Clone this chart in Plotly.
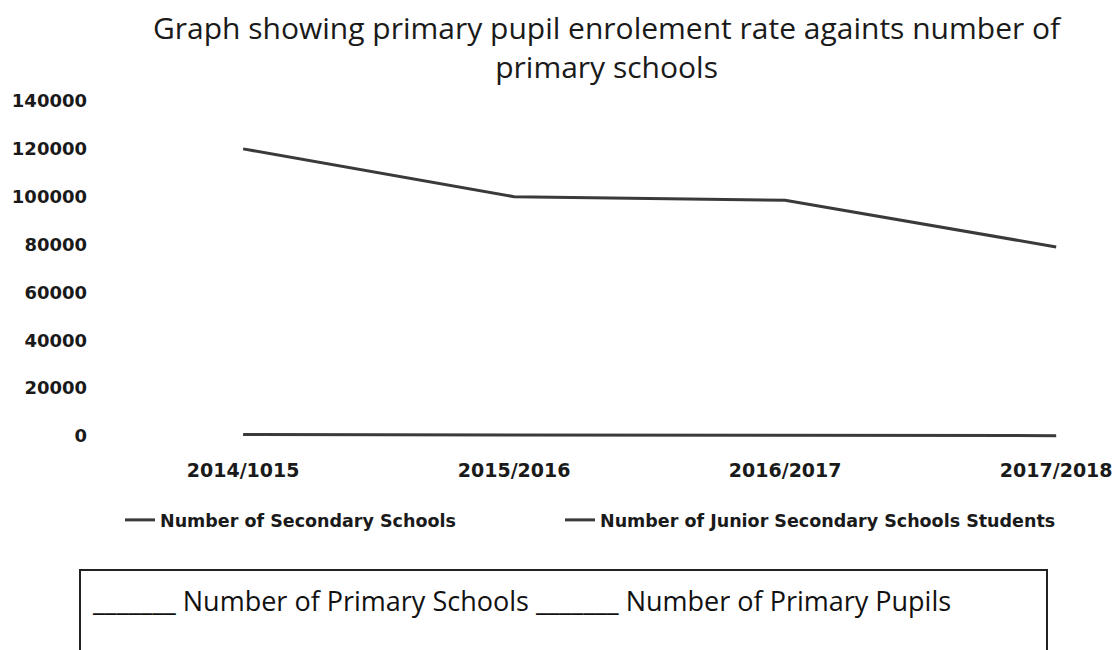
import plotly.graph_objects as go

categories = ["2014/1015", "2015/2016", "2016/2017", "2017/2018"]
secondary_schools = [600, 450, 300, 150]
junior_secondary_students = [120000, 100000, 98500, 79000]
y_ticks = [0, 20000, 40000, 60000, 80000, 100000, 120000, 140000]

W, H = 1115, 650
L, R, T, B = 100, 0, 95, 205
plot_h = H - T - B
plot_w = W - L - R

def px(xp):
    return (xp - L) / plot_w

def py(yp):
    return (H - B - yp) / plot_h

fig = go.Figure()
fig.add_trace(go.Scatter(
    x=categories, y=secondary_schools, mode="lines",
    name="Number of Secondary Schools",
    line=dict(color="#3a3a3a", width=3), legend="legend",
))
fig.add_trace(go.Scatter(
    x=categories, y=junior_secondary_students, mode="lines",
    name="Number of Junior Secondary Schools Students",
    line=dict(color="#3a3a3a", width=3), legend="legend2",
))

legend_font = dict(family="DejaVu Sans", size=17.5, color="#1a1a1a", weight="bold")

fig.update_layout(
    width=W, height=H,
    margin=dict(l=L, r=R, t=T, b=B, pad=0),
    paper_bgcolor="white", plot_bgcolor="white",
    xaxis=dict(
        type="category", range=[-0.528, 3.217],
        showgrid=False, zeroline=False, showline=False, ticks="",
        tickfont=dict(family="DejaVu Sans", size=19, color="#1a1a1a", weight="bold"),
        ticklabelstandoff=12,
    ),
    yaxis=dict(
        range=[-3761, 142507], tickvals=y_ticks, tickformat="d",
        showgrid=False, zeroline=False, showline=False, ticks="",
        tickfont=dict(family="DejaVu Sans", size=18, color="#1a1a1a", weight="bold"),
        ticklabelstandoff=12,
    ),
    showlegend=True,
    legend=dict(
        orientation="h", x=px(120), xanchor="left", y=py(502), yanchor="top",
        font=legend_font, itemwidth=30, bgcolor="rgba(0,0,0,0)",
    ),
    legend2=dict(
        orientation="h", x=px(560), xanchor="left", y=py(502), yanchor="top",
        font=legend_font, itemwidth=30, bgcolor="rgba(0,0,0,0)",
    ),
    shapes=[dict(
        type="rect", xref="paper", yref="paper",
        x0=px(80), x1=px(1047), y0=py(570), y1=py(720),
        line=dict(color="#222222", width=2), fillcolor="rgba(0,0,0,0)",
    )],
    annotations=[
        dict(
            text="Graph showing primary pupil enrolement rate againts number of<br>primary schools",
            xref="paper", yref="paper", x=px(607), y=py(47),
            xanchor="center", yanchor="middle", showarrow=False,
            font=dict(family="Open Sans", size=30, color="#1a1a1a"),
        ),
        dict(
            text="_______ Number of Primary Schools _______ Number of Primary Pupils",
            xref="paper", yref="paper", x=px(90), y=py(600),
            xanchor="left", yanchor="middle", showarrow=False,
            font=dict(family="Open Sans", size=27, color="#111111"),
        ),
    ],
)

fig.write_html("out.html")
